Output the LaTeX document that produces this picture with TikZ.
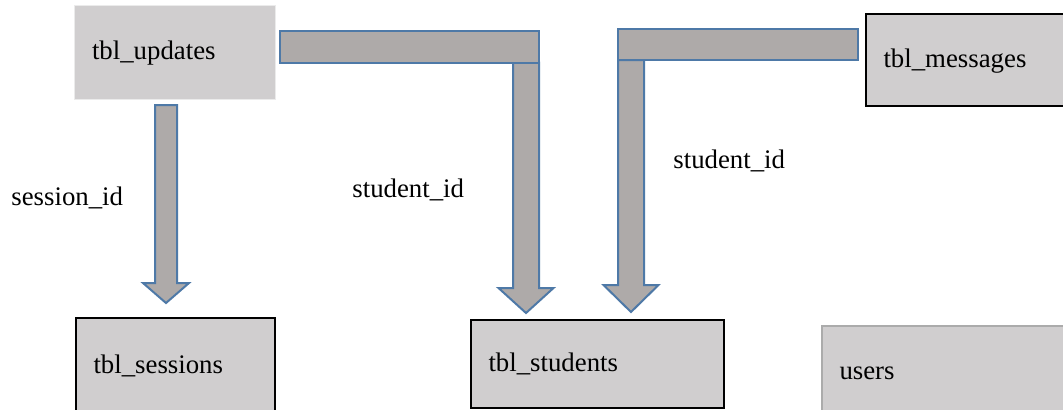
\documentclass[tikz,border=0pt]{standalone}
\usepackage{fontspec}
\setmainfont{Liberation Serif}
\usetikzlibrary{calc}
\definecolor{grisc}{HTML}{D0CECF}
\definecolor{grisf}{HTML}{AEAAA9}
\definecolor{azulb}{HTML}{4E79A7}

% block arrow pointing down: top point, tip, shaft half width, head half width, head length
\newcommand{\bloqueabajo}[5]{%
  \draw[bloque] let \p1=(#1), \p2=(#2) in
    (\x2-#3,\y1) -- (\x2+#3,\y1) -- (\x2+#3,\y2+#5) -- (\x2+#4,\y2+#5)
    -- (\x2,\y2) -- (\x2-#4,\y2+#5) -- (\x2-#3,\y2+#5) -- cycle;}

\begin{document}
\begin{tikzpicture}[
    x=0.5pt, y=-0.5pt,
    font=\fontsize{13.4}{16}\selectfont,
    tabla/.style={rectangle, draw=black, line width=1pt, fill=grisc, anchor=north west, align=left, inner xsep=8.75pt, inner ysep=0pt, text height=10pt, text depth=3pt},
    bloque/.style={draw=azulb, line width=1pt, fill=grisf, line join=miter},
    etiqueta/.style={anchor=base west, inner sep=0pt}
]
\useasboundingbox (0,0) rectangle (1063,409);
\clip (0,0) rectangle (1063,409);
\fill[white] (0,0) rectangle (1063,409);

\node (upd) [tabla, draw=black!8, line width=0.5pt, text width=83pt, minimum height=47pt] at (74,5) {tbl\_updates};
\node (msg) [tabla, text width=92.5pt, minimum height=46pt] at (865,13) {tbl\_messages};
\node (ses) [tabla, text width=82pt, minimum height=48pt] at (75,317) {tbl\_sessions};
\node (stu) [tabla, text width=109pt, minimum height=44pt] at (470,319) {tbl\_students};
\node (usr) [tabla, draw=black!33, text width=107.5pt, minimum height=46pt] at (821,325) {users};

\node (lses) [etiqueta] at (11,205) {session\_id};
\node (lstu1) [etiqueta] at (352,197) {student\_id};
\node (lstu2) [etiqueta] at (673,168) {student\_id};

% tbl_updates -> tbl_sessions
\bloqueabajo{$(upd.south)+(0,5)$}{$(ses.north)+(-9.5,-14)$}{5.5pt}{11.5pt}{10pt}

% tbl_updates -> tbl_students
\coordinate (punta1) at ($(stu.north west)+(56,-6)$);
\bloqueabajo{$(upd.east)+(0,10)$}{punta1}{6.5pt}{13.75pt}{12.5pt}
\draw[bloque] let \p1=(punta1), \p2=($(upd.east)+(0,10)$) in ($(upd.east)+(4,-22)$) rectangle (\x1+6.5pt,\y2);

% tbl_messages -> tbl_students
\coordinate (punta2) at ($(stu.north east)+(-94,-7)$);
\bloqueabajo{msg.west}{punta2}{6.5pt}{13.75pt}{13.5pt}
\draw[bloque] let \p1=(punta2), \p2=(msg.west) in ($(msg.west)+(-7,-31)$) rectangle (\x1-6.5pt,\y2);

\end{tikzpicture}
\end{document}
